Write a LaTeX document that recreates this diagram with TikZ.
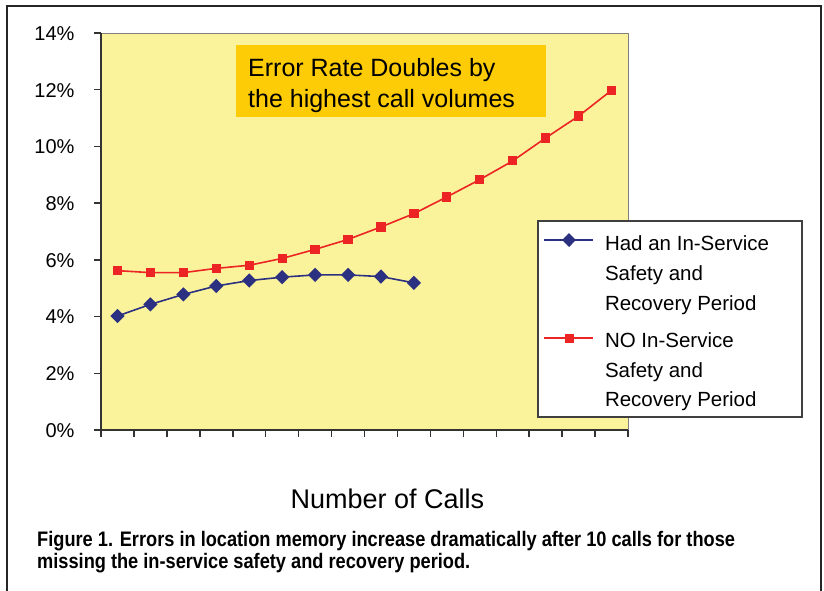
\documentclass[tikz,border=0pt]{standalone}
\usepackage{fontspec}
\setmainfont{Liberation Sans}
\newfontfamily\capfont[FakeStretch=0.867]{Liberation Sans}
\usetikzlibrary{plotmarks}
\definecolor{plotbg}{RGB}{250,243,156}
\definecolor{gold}{RGB}{253,204,6}
\definecolor{navy}{RGB}{44,48,128}
\definecolor{redline}{RGB}{237,36,36}
\tikzset{
  axis/.style={line width=1.5pt, black!80},
  ylab/.style={anchor=base east, font=\fontsize{20}{24}\selectfont},
  legtext/.style={anchor=base west, font=\fontsize{20.5}{24}\selectfont},
}
\begin{document}
\begin{tikzpicture}[x=1pt,y=-1pt]
\useasboundingbox (0,0) rectangle (824,590);
\fill[white] (0,0) rectangle (824,590);
% outer frame
\draw[line width=2pt, black!85] (7,592) -- (7,6) -- (821,6) -- (821,592);
% plot area
\fill[plotbg] (101,33) rectangle (628,430);
\draw[gray, line width=0.9pt] (101,33) -- (628,33) -- (628,430);
\draw[axis] (101,33) -- (101,430) -- (628,430);
\foreach \k in {0,...,7} {
  \draw[axis] (94,{430-\k*56.714}) -- (101,{430-\k*56.714});
  \pgfmathtruncatemacro{\lab}{2*\k}
  \node[ylab] (y\k) at (78,{430-\k*56.714+7.3}) {\lab\%};
}
\foreach \i in {0,...,16} \draw[axis] ({101+\i*32.9375},430) -- ++(0,7);
% annotation
\fill[gold] (236,45) rectangle (546,117);
\node[anchor=base west, font=\fontsize{25}{31}\selectfont, inner sep=0pt] (ann1) at (248,76) {Error Rate Doubles by};
\node[anchor=base west, font=\fontsize{25}{31}\selectfont, inner sep=0pt] (ann2) at (248,107) {the highest call volumes};
% data
\begin{scope}[shift={(101,430)}, x=32.9375pt, y=28.357pt]
\draw[redline, line width=1.6pt] plot[mark=square*, mark size=3.8pt, mark options={fill=redline, draw=redline}] coordinates {
 (0.5,5.62) (1.5,5.55) (2.5,5.55) (3.5,5.70) (4.5,5.81) (5.5,6.05) (6.5,6.37) (7.5,6.72) (8.5,7.16) (9.5,7.63) (10.5,8.22) (11.5,8.83) (12.5,9.49) (13.5,10.30) (14.5,11.07) (15.5,11.98)};
\draw[navy, line width=1.6pt] plot[mark=diamond*, mark size=6pt, mark options={xscale=1.33, fill=navy, draw=navy}] coordinates {
 (0.5,4.02) (1.5,4.43) (2.5,4.78) (3.5,5.08) (4.5,5.27) (5.5,5.39) (6.5,5.47) (7.5,5.47) (8.5,5.41) (9.5,5.19)};
\end{scope}
% legend
\draw[fill=white, draw=black!75, line width=1.2pt] (538,221) rectangle (802,417);
\draw[navy, line width=1.4pt] plot[mark=diamond*, mark size=6pt, mark options={xscale=1.33, fill=navy, draw=navy}, mark indices={2}] coordinates {(544,240) (569,240) (593,240)};
\draw[redline, line width=1.4pt] plot[mark=square*, mark size=3.8pt, mark options={fill=redline, draw=redline}, mark indices={2}] coordinates {(544,338) (569,338) (593,338)};
\node[legtext] (l1a) at (601.5,250.5) {Had an In-Service};
\node[legtext] (l1b) at (601.5,280) {Safety and};
\node[legtext] (l1c) at (601.5,310) {Recovery Period};
\node[legtext] (l2a) at (601.5,347.5) {NO In-Service};
\node[legtext] (l2b) at (601.5,377) {Safety and};
\node[legtext] (l2c) at (601.5,406.5) {Recovery Period};
% axis title
\node[anchor=base, font=\fontsize{27}{32}\selectfont] (xt) at (387.5,508) {Number of Calls};
% caption
\node[anchor=base west, inner sep=0pt, font=\capfont\bfseries\fontsize{21}{24}\selectfont] (c1) at (37,546.7) {Figure 1. Errors in location memory increase dramatically after 10 calls for those};
\node[anchor=base west, inner sep=0pt, font=\capfont\bfseries\fontsize{21}{24}\selectfont] (c2) at (37,568.3) {missing the in-service safety and recovery period.};
\end{tikzpicture}
\end{document}
